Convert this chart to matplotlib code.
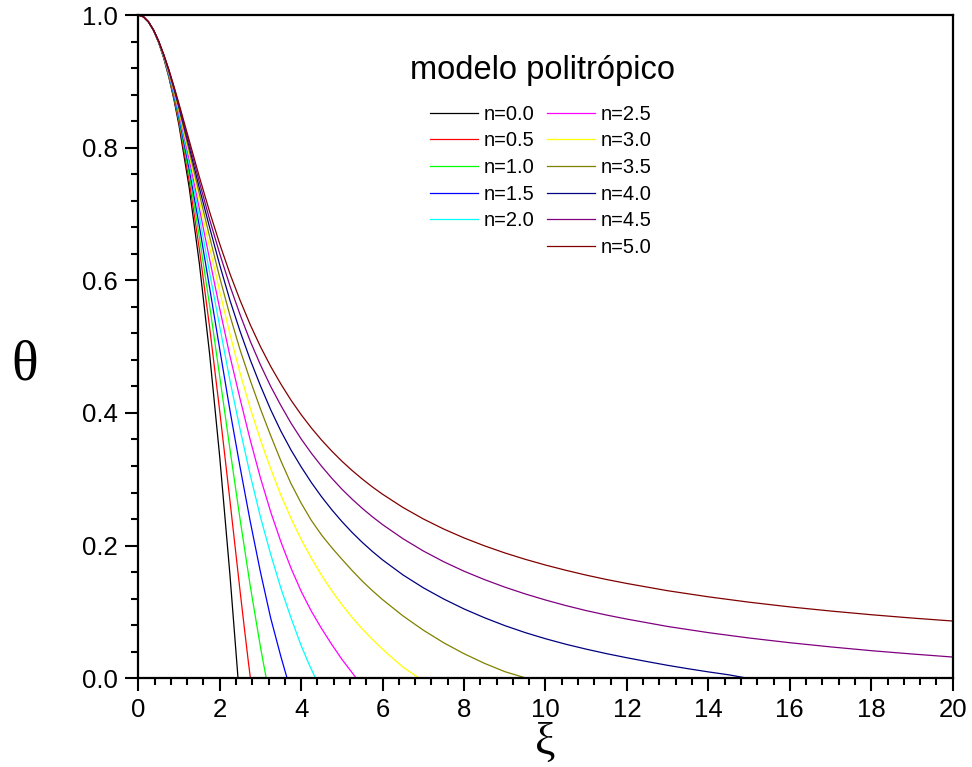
import numpy as np
import matplotlib
matplotlib.use("Agg")
import matplotlib.pyplot as plt
from matplotlib.lines import Line2D
from matplotlib.ticker import MultipleLocator, FormatStrFormatter

plt.rcParams['font.family'] = ['Liberation Sans', 'DejaVu Sans']

# polytropic index and curve colours (Origin defaults)
n_values = [0.0, 0.5, 1.0, 1.5, 2.0, 2.5, 3.0, 3.5, 4.0, 4.5, 5.0]
colors = ['#000000', '#FF0000', '#00FF00', '#0000FF', '#00FFFF', '#FF00FF',
          '#FFFF00', '#808000', '#000080', '#800080', '#800000']

# values: xi and theta for each n
xi_00 = [0, .125, .25, .375, .5, .625, .75, .875, 1, 1.25, 1.5, 1.75, 2, 2.25, 2.449]
th_00 = [1, 0.9974, 0.9896, 0.9766, 0.9583, 0.9349, 0.9063, 0.8724, 0.8333, 0.7396, 0.625, 0.4896, 0.3333,
         0.1563, 0]

xi_05 = [0, .125, .25, .375, .5, .625, .75, .875, 1, 1.25, 1.5, 1.75, 2, 2.25, 2.5, 2.6, 2.7, 2.753]
th_05 = [1, 0.9974, 0.9896, 0.9767, 0.9586, 0.9355, 0.9076, 0.8748, 0.8375, 0.7498, 0.6465, 0.5297, 0.4024,
         0.268, 0.131, 0.078, 0.026, 0]

xi_10 = [0, .125, .25, .375, .5, .625, .75, .875, 1, 1.25, 1.5, 1.75, 2, 2.25, 2.5, 2.75, 3, 3.1416]
th_10 = [1, 0.9974, 0.9896, 0.9767, 0.9589, 0.9361, 0.9089, 0.8772, 0.8415, 0.7592, 0.6650, 0.5623, 0.4546,
         0.3457, 0.2394, 0.1388, 0.0470, 0]

xi_15 = [0, .125, .25, .375, .5, .625, .75, .875, 1, 1.25, 1.5, 1.75, 2, 2.25, 2.5, 2.75, 3, 3.25, 3.5, 3.654]
th_15 = [1, 0.9974, 0.9896, 0.9768, 0.9591, 0.9368, 0.9101, 0.8794, 0.8452, 0.7676, 0.6811, 0.5893, 0.496,
         0.404, 0.318, 0.236, 0.160, 0.091, 0.033, 0]

xi_20 = [0, .125, .25, .375, .5, .625, .75, .875, 1, 1.25, 1.5, 1.75, 2, 2.25, 2.5, 2.75, 3, 3.25, 3.5, 3.75,
         4, 4.2, 4.353]
th_20 = [1, 0.9974, 0.9896, 0.9769, 0.9594, 0.9374, 0.9114, 0.8816, 0.8486, 0.7753, 0.6956, 0.612, 0.530,
         0.449, 0.375, 0.306, 0.243, 0.187, 0.136, 0.091, 0.049, 0.020, 0]

xi_25 = [0, .125, .25, .375, .5, .625, .75, .875, 1, 1.25, 1.5, 1.75, 2, 2.25, 2.5, 2.75, 3, 3.25, 3.5, 3.75,
         4, 4.25, 4.5, 4.75, 5, 5.2, 5.355]
th_25 = [1, 0.9974, 0.9897, 0.9770, 0.9596, 0.9380, 0.9126, 0.8837, 0.8519, 0.7824, 0.708, 0.632, 0.557,
         0.486, 0.421, 0.359, 0.302, 0.251, 0.206, 0.166, 0.131, 0.101, 0.075, 0.051, 0.0285, 0.0125, 0]

xi_30 = [0, .125, .25, .375, .5, .625, .75, .875, 1, 1.25, 1.5, 1.75, 2, 2.25, 2.5, 2.75, 3, 3.25, 3.5, 3.75,
         4, 4.25, 4.5, 4.75, 5, 5.25, 5.5, 5.75, 6, 6.25, 6.5, 6.897]
th_30 = [1, 0.9974, 0.9897, 0.9771, 0.9598, 0.9385, 0.9138, 0.8858, 0.8550, 0.7888, 0.7195, 0.650, 0.5829,
         0.519, 0.4598, 0.407, 0.3592, 0.316, 0.2762, 0.241, 0.2092, 0.181, 0.1551, 0.132, 0.1108, 0.0918,
         0.0743, 0.0585, 0.0437, 0.0299, 0.0169, 0]

xi_35 = [0, .125, .25, .375, .5, .625, .75, .875, 1, 1.25, 1.5, 1.75, 2, 2.25, 2.5, 2.75, 3, 3.25, 3.5, 3.75,
         4, 4.25, 4.5, 4.75, 5, 5.25, 5.5, 5.75, 6, 6.5, 7, 7.5, 8, 8.5, 9, 9.536]
th_35 = [1, 0.9974, 0.9897, 0.9771, 0.9601, 0.9391, 0.9150, 0.8877, 0.8581, 0.7952, 0.730, 0.666, 0.604,
         0.547, 0.495, 0.449, 0.406, 0.366, 0.328, 0.2935, 0.264, 0.238, 0.216, 0.197, 0.1795, 0.1625,
         0.1465, 0.132, 0.1185, 0.094, 0.0725, 0.0535, 0.037, 0.0225, 0.010, 0]

xi_40 = [0, .125, .25, .375, .5, .625, .75, .875, 1, 1.25, 1.5, 1.75, 2, 2.25, 2.5, 2.75, 3, 3.25, 3.5, 3.75,
         4, 4.25, 4.5, 4.75, 5, 5.25, 5.5, 5.75, 6, 6.5, 7, 7.5, 8, 8.5, 9, 9.5, 10, 10.5, 11, 11.5, 12,
         12.5, 13, 13.5, 14, 14.5, 14.97]
th_40 = [1, 0.9974, 0.9897, 0.9772, 0.9603, 0.9396, 0.9161, 0.8895, 0.8611, 0.8008, 0.739, 0.680, 0.623,
         0.570, 0.523, 0.480, 0.441, 0.405, 0.3728, 0.3442, 0.3187, 0.2951, 0.2737, 0.2542, 0.2363, 0.2199,
         0.2049, 0.1911, 0.1784, 0.1558, 0.1364, 0.1195, 0.1045, 0.0913, 0.0794, 0.0689, 0.0596, 0.0513,
         0.0439, 0.0371, 0.0309, 0.0251, 0.0195, 0.0144, 0.0096, 0.0052, 0]

xi_45 = [0, .125, .25, .375, .5, .625, .75, .875, 1, 1.25, 1.5, 1.75, 2, 2.25, 2.5, 2.75, 3, 3.25, 3.5, 3.75,
         4, 4.25, 4.5, 4.75, 5, 5.25, 5.5, 5.75, 6, 6.5, 7, 7.5, 8, 8.5, 9, 9.5, 10, 10.5, 11, 11.5, 12,
         13, 14, 15, 16, 17, 18, 19, 20]
th_45 = [1, 0.9974, 0.9897, 0.9773, 0.9606, 0.9401, 0.9172, 0.8911, 0.8637, 0.806, 0.748, 0.692, 0.640,
         0.5917, 0.5481, 0.5081, 0.4725, 0.4402, 0.4114, 0.3847, 0.3608, 0.3393, 0.3197, 0.3017, 0.2851,
         0.2701, 0.2562, 0.2434, 0.2316, 0.2104, 0.1919, 0.1757, 0.1614, 0.1488, 0.1374, 0.1272, 0.1180,
         0.1096, 0.1020, 0.0953, 0.0892, 0.0781, 0.0688, 0.0607, 0.0536, 0.0473, 0.0416, 0.0366, 0.0320]

xi_50 = [0, .125, .25, .375, .5, .625, .75, .875, 1, 1.25, 1.5, 1.75, 2, 2.25, 2.5, 2.75, 3, 3.25, 3.5, 3.75,
         4, 4.25, 4.5, 4.75, 5, 5.25, 5.5, 5.75, 6, 6.5, 7, 7.5, 8, 8.5, 9, 9.5, 10, 10.5, 11, 11.5, 12,
         13, 14, 15, 16, 17, 18, 19, 20]
th_50 = [1, 0.9974, 0.9897, 0.9774, 0.9608, 0.9406, 0.9177, 0.8926, 0.8660, 0.8109, 0.7559, 0.7035, 0.6547,
         0.6100, 0.5698, 0.5329, 0.5000, 0.4703, 0.4438, 0.4193, 0.3974, 0.3774, 0.3592, 0.3426, 0.3273,
         0.3133, 0.3004, 0.2884, 0.2774, 0.2575, 0.2402, 0.2250, 0.2116, 0.1997, 0.1890, 0.1794, 0.1707,
         0.1628, 0.1555, 0.1489, 0.1429, 0.1320, 0.1228, 0.1147, 0.1076, 0.1014, 0.0958, 0.0908, 0.0863]

xis = [xi_00, xi_05, xi_10, xi_15, xi_20, xi_25, xi_30, xi_35, xi_40, xi_45, xi_50]
thetas = [th_00, th_05, th_10, th_15, th_20, th_25, th_30, th_35, th_40, th_45, th_50]

fig = plt.figure(figsize=(9.72, 7.67), dpi=100)
ax = fig.add_axes([0.1423, 0.1157, 0.8378, 0.8647])

lines = []
for n, x, y, c in zip(n_values, xis, thetas, colors):
    ln, = ax.plot(x, y, color=c, lw=0.9, label=f"n={n:.1f}")
    lines.append(ln)

ax.set_xlim(0, 20)
ax.set_ylim(0, 1.0)
ax.xaxis.set_major_locator(MultipleLocator(2))
ax.xaxis.set_minor_locator(MultipleLocator(0.4))
ax.yaxis.set_major_locator(MultipleLocator(0.2))
ax.yaxis.set_minor_locator(MultipleLocator(0.04))
ax.yaxis.set_major_formatter(FormatStrFormatter('%.1f'))

for s in ax.spines.values():
    s.set_linewidth(1.6)
ax.tick_params(which='both', top=False, right=False, direction='out', width=1.5, labelsize=18.5)
ax.tick_params(which='major', length=9.5, pad=5)
ax.tick_params(which='minor', length=5)

serif = ['Liberation Serif', 'DejaVu Serif']
ax.set_xlabel('ξ', family=serif, fontsize=33, va='top')
ax.xaxis.set_label_coords(0.5, -0.066)
ax.set_ylabel('θ', family=serif, fontsize=40, rotation=0, ha='center', va='center')
ax.yaxis.set_label_coords(-0.140, 0.472)

ax.text(0.496, 0.917, 'modelo politrópico', transform=ax.transAxes,
        ha='center', va='center', fontsize=23.5)

# blank entry so the first column holds five curves and the second six
blank = Line2D([], [], color='none')
handles = lines[:5] + [blank] + lines[5:]
labels = [l.get_label() for l in lines[:5]] + [''] + [l.get_label() for l in lines[5:]]
ax.legend(handles, labels, ncol=2, frameon=False, fontsize=14.5,
          loc='upper left', bbox_to_anchor=(0.348, 0.877), borderaxespad=0,
          handlelength=2.39, handletextpad=0.3, columnspacing=0.6, labelspacing=0.38)

fig.savefig('out.png', dpi=100)
